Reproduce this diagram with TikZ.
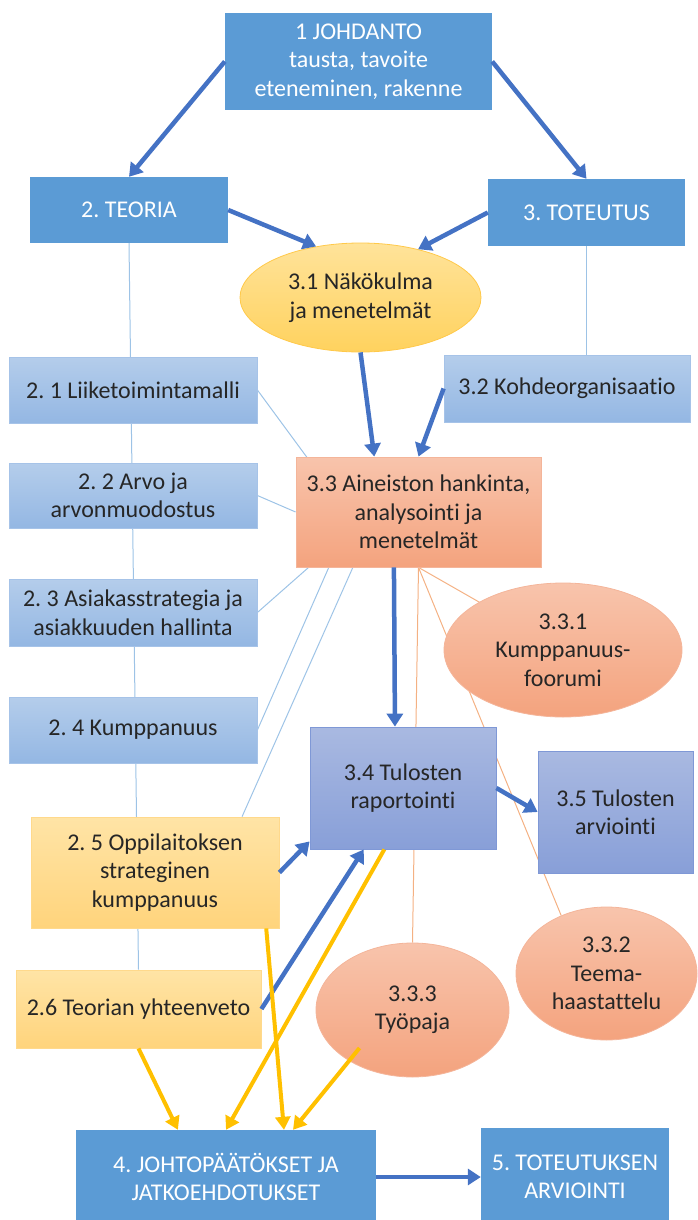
\documentclass[tikz,border=0pt]{standalone}
\usepackage{fontspec}
\setmainfont{Carlito}[Ligatures=NoCommon]
\usetikzlibrary{shapes.geometric,arrows.meta,calc,backgrounds}

\definecolor{mainblue}{HTML}{5B9BD5}
\definecolor{arrowblue}{HTML}{4472C4}
\definecolor{arrowyellow}{HTML}{FFC000}
\definecolor{lbtop}{HTML}{B4CDEB}
\definecolor{lbbot}{HTML}{94B7E3}
\definecolor{lbedge}{HTML}{A6C3E8}
\definecolor{saltop}{HTML}{F8C4AC}
\definecolor{salbot}{HTML}{F4A37E}
\definecolor{saledge}{HTML}{F4B59A}
\definecolor{pbtop}{HTML}{A9B9E1}
\definecolor{pbbot}{HTML}{889FD8}
\definecolor{pbedge}{HTML}{7F98D6}
\definecolor{yetop}{HTML}{FFE4A6}
\definecolor{yebot}{HTML}{FFD47C}
\definecolor{yeedge}{HTML}{FFD98C}
\definecolor{eltop}{HTML}{FFE39A}
\definecolor{elbot}{HTML}{FFD25E}
\definecolor{eledge}{HTML}{FFC94A}
\definecolor{thinblue}{HTML}{9DC3E6}
\definecolor{thinorange}{HTML}{F4B183}
\definecolor{txt}{HTML}{262626}

\frenchspacing

\begin{document}
\begin{tikzpicture}[x=1pt,y=-1pt,
  font=\fontsize{24}{28.5}\selectfont,
  every node/.style={inner sep=0pt, align=center},
  solidbox/.style={rectangle, fill=mainblue, text=white},
  lightbox/.style={rectangle, top color=lbtop, bottom color=lbbot, draw=lbedge, line width=0.8pt, text=txt},
  salbox/.style={rectangle, top color=saltop, bottom color=salbot, draw=saledge, line width=0.8pt, text=txt},
  salell/.style={ellipse, top color=saltop, bottom color=salbot, draw=saledge, line width=0.8pt, text=txt},
  pbbox/.style={rectangle, top color=pbtop, bottom color=pbbot, draw=pbedge, line width=0.8pt, text=txt},
  yebox/.style={rectangle, top color=yetop, bottom color=yebot, draw=yeedge, line width=0.8pt, text=txt},
  yeell/.style={ellipse, top color=eltop, bottom color=elbot, draw=eledge, line width=0.8pt, text=txt},
  bluearrow/.style={draw=arrowblue, line width=4.5pt, -{Triangle[length=13pt,width=16pt]}},
  yellowarrow/.style={draw=arrowyellow, line width=4pt, -{Triangle[length=13pt,width=15pt]}},
  thinb/.style={draw=thinblue, line width=1pt},
  thino/.style={draw=thinorange, line width=1pt}]

\useasboundingbox (0,0) rectangle (697,1220);

% main chapters
\node[solidbox, minimum width=267pt, minimum height=97pt] (johd) at (358.5,61.5)
  {1 JOHDANTO\\tausta, tavoite\\eteneminen, rakenne};
\node[solidbox, minimum width=198pt, minimum height=66pt] (teoria) at (129,210) {2. TEORIA};
\node[solidbox, minimum width=197pt, minimum height=67pt] (toteutus) at (586.5,212.5) {3. TOTEUTUS};
\node[yeell, minimum width=241pt, minimum height=109pt] (n31) at (360.5,297.5)
  {3.1 Näkökulma\\ja menetelmät};

% theory column
\node[lightbox, minimum width=248pt, minimum height=66pt] (n21) at (133,390) {2. 1 Liiketoimintamalli};
\node[lightbox, minimum width=248pt, minimum height=65pt] (n22) at (133,495.5) {2. 2 Arvo ja\\arvonmuodostus};
\node[lightbox, minimum width=248pt, minimum height=67pt] (n23) at (133,612.5) {2. 3 Asiakasstrategia ja\\asiakkuuden hallinta};
\node[lightbox, minimum width=248pt, minimum height=66pt] (n24) at (133,730) {2. 4 Kumppanuus};
\node[yebox, minimum width=248pt, minimum height=111pt] (n25) at (155,872.5) {2. 5 Oppilaitoksen\\strateginen\\kumppanuus};
\node[yebox, minimum width=245pt, minimum height=78pt] (n26) at (138.5,1009) {2.6 Teorian yhteenveto};

% implementation column
\node[lightbox, minimum width=246pt, minimum height=67pt] (n32) at (567,388.5) {3.2 Kohdeorganisaatio};
\node[salbox, minimum width=245pt, minimum height=110pt] (n33) at (418.5,512)
  {3.3 Aineiston hankinta,\\analysointi ja\\menetelmät};
\node[salell, minimum width=238pt, minimum height=134pt] (n331) at (563,650) {3.3.1\\Kumppanuus-\\foorumi};
\node[pbbox, minimum width=186pt, minimum height=122pt] (n34) at (403,788) {3.4 Tulosten\\raportointi};
\node[pbbox, minimum width=155pt, minimum height=122pt] (n35) at (615.5,812) {3.5 Tulosten\\arviointi};
\node[salell, minimum width=181pt, minimum height=133pt] (n332) at (606.5,973.5) {3.3.2\\Teema-\\haastattelu};
\node[salell, minimum width=193pt, minimum height=134pt] (n333) at (412.5,1010) {3.3.3\\Työpaja};

% conclusions
\node[solidbox, minimum width=300pt, minimum height=94pt] (n4) at (226,1177)
  {4. JOHTOPÄÄTÖKSET JA\\JATKOEHDOTUKSET};
\node[solidbox, minimum width=188pt, minimum height=98pt] (n5) at (575,1177)
  {5. TOTEUTUKSEN\\ARVIOINTI};

% thin relation lines behind the shapes
\begin{pgfonlayer}{background}
  \draw[thinb] (teoria.south) -- (n26.north);
  \draw[thinb] (toteutus.south) -- (toteutus.south |- n32.north);
  \draw[thinb] (n21.east) -- ($(n33.north west)+(13,3)$);
  \draw[thinb] (n22.east) -- (n33.west);
  \draw[thinb] (n23.east) -- ($(n33.south west)+(13,0)$);
  \draw[thinb] (n24.east) -- ($(n33.south west)!0.135!(n33.south east)$);
  \draw[thinb] ($(n25.north west)!0.85!(n25.north east)$) -- ($(n33.south west)!0.233!(n33.south east)$);
  \draw[thino] (n33.south) -- (n331.center);
  \draw[thino] (n33.south) -- (n332.128);
  \draw[thino] (n33.south) -- (n333.north);
\end{pgfonlayer}

% main flow
\draw[bluearrow] (johd.west) -- (teoria.north);
\draw[bluearrow] (johd.east) -- (toteutus.north);
\draw[bluearrow] (teoria.east) -- (n31.131);
\draw[bluearrow] (toteutus.west) -- (n31.40);
\draw[bluearrow] (n31.south) -- ($(n33.north west)!0.32!(n33.north east)$);
\draw[bluearrow] (n32.west) -- (n33.north);
\draw[bluearrow] ($(n33.south west)!0.4!(n33.south east)$) -- ($(n34.north west)!0.457!(n34.north east)$);
\draw[bluearrow] (n34.east) -- (n35.west);
\draw[bluearrow] (n25.east) -- ($(n34.south west)+(0,-8)$);
\draw[bluearrow] (n26.east) -- ($(n34.south west)!0.29!(n34.south east)$);
\draw[bluearrow] (n4.east) -- (n5.west);

% inputs to the conclusions
\draw[yellowarrow] (n26.south) -- ($(n4.north west)!0.34!(n4.north east)$);
\draw[yellowarrow] ($(n34.south west)!0.4!(n34.south east)$) -- (n4.north);
\draw[yellowarrow] ($(n25.south west)!0.947!(n25.south east)$) -- ($(n4.north west)!0.693!(n4.north east)$);
\draw[yellowarrow] ($(n333.center)+(-53,38)$) -- ($(n4.north west)!0.723!(n4.north east)$);

\end{tikzpicture}
\end{document}
